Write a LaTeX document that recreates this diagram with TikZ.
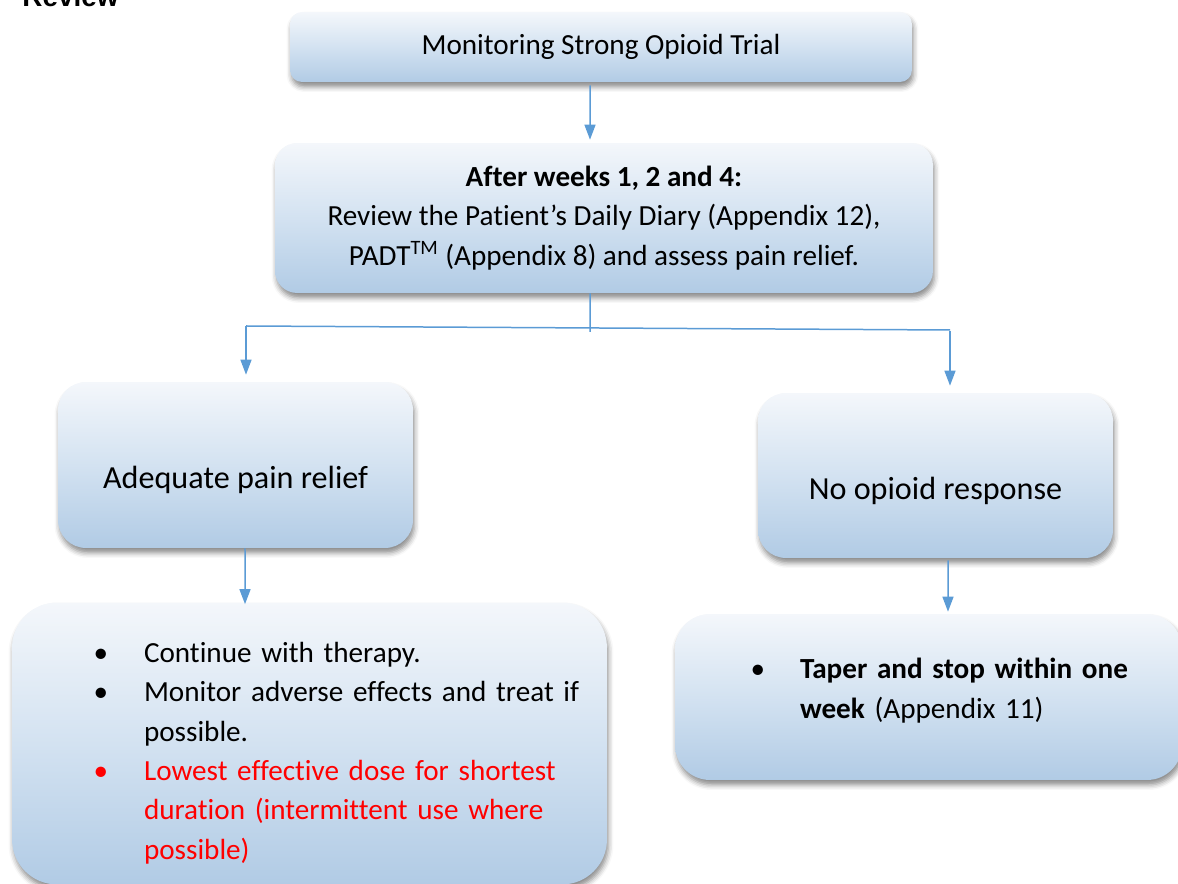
\documentclass[tikz,border=0pt]{standalone}
\usepackage{fontspec}
\setmainfont{Carlito}[Ligatures=NoCommon]
\newfontfamily\headfont{Liberation Sans}
\usepackage{enumitem}
\usetikzlibrary{arrows.meta, shadows.blur}
\definecolor{linkblue}{HTML}{5B9BD5}
\definecolor{boxtop}{HTML}{F4F7FB}
\definecolor{boxmid}{HTML}{D3E2F1}
\definecolor{boxbot}{HTML}{B1CBE5}
\tikzstyle{panel} = [rectangle, inner sep=0pt, align=center, top color=boxtop, bottom color=boxbot, middle color=boxmid, blur shadow={shadow xshift=0.03cm, shadow yshift=-0.1cm, shadow blur radius=0.1cm, shadow opacity=45}, font=\fontsize{16.6}{22.4}\selectfont]
\tikzstyle{bigtext} = [font=\fontsize{18.3}{22.4}\selectfont]
\tikzstyle{arrow} = [line width=0.03cm, draw=linkblue, -{Triangle[width=0.22cm,length=0.3cm]}]
\tikzstyle{line} = [line width=0.03cm, draw=linkblue]

\begin{document}
\begin{tikzpicture}[x=0.02cm, y=-0.02cm]
\clip (0,0) rectangle (1178,884);

% Nodes / blocks
\node (heading) [anchor=base west, inner sep=0pt, font=\headfont\bfseries\fontsize{15.9}{19}\selectfont] at (22,6.5) {Review};
\node (monitor) [panel, rounded corners=0.24cm, minimum width=12.44cm, minimum height=1.4cm] at (601,47) {Monitoring Strong Opioid Trial};
\node (review) [panel, rounded corners=0.44cm, minimum width=13.16cm, minimum height=3cm] at (604,218) {\textbf{After weeks 1, 2 and 4:}\\Review the Patient’s Daily Diary (Appendix 12),\\PADT\textsuperscript{TM} (Appendix 8) and assess pain relief.};
\node (adequate) [panel, bigtext, rounded corners=0.56cm, minimum width=7.1cm, minimum height=3.32cm, text height=1.06cm, text depth=0.12cm] at (235.5,465) {Adequate pain relief};
\node (noresp) [panel, bigtext, rounded corners=0.56cm, minimum width=7.1cm, minimum height=3.3cm, text height=1.08cm, text depth=0.12cm] at (935.5,475.5) {No opioid response};
\node (continue) [panel, rounded corners=0.9cm, minimum width=11.9cm, minimum height=5.64cm, text width=11.42cm, align=left] at (309.5,743.5) {\raggedright
\begin{itemize}[nosep, leftmargin=2.4cm, labelsep=0.72cm, label=\textbullet]
\item Continue with therapy.
\item Monitor adverse effects and treat if\newline possible.
\color{red}\item Lowest effective dose for shortest\newline duration (intermittent use where\newline possible)
\end{itemize}};
\node (taper) [panel, rounded corners=0.7cm, minimum width=10.14cm, minimum height=3.32cm, text width=9.66cm, align=left, text depth=2.3cm] at (928.5,697) {\raggedright
\begin{itemize}[nosep, leftmargin=2.26cm, labelsep=0.7cm, label=\textbullet]
\item \textbf{Taper and stop within one}\newline\textbf{week} (Appendix 11)
\end{itemize}};

% Split points
\coordinate (stem) at (590,332);
\coordinate (splitL) at (246,326);
\coordinate (splitR) at (950,330);

% Arrows
\draw [arrow] ([xshift=-0.22cm, yshift=-0.06cm]monitor.south) -- ([xshift=-0.28cm, yshift=0.06cm]review.north);
\draw [line] ([xshift=-0.28cm]review.south) -- (stem);
\draw [line] (splitL) -- (splitR);
\draw [arrow] (splitL) -- ([yshift=0.14cm]splitL |- adequate.north);
\draw [arrow] ([yshift=-0.02cm]splitR) -- ([yshift=0.14cm]splitR |- noresp.north);
\draw [arrow] ([xshift=0.19cm]adequate.south) -- ([xshift=-1.29cm, yshift=-0.04cm]continue.north);
\draw [arrow] ([xshift=0.25cm, yshift=-0.04cm]noresp.south) -- ([xshift=0.39cm, yshift=0.04cm]taper.north);

\end{tikzpicture}
\end{document}
